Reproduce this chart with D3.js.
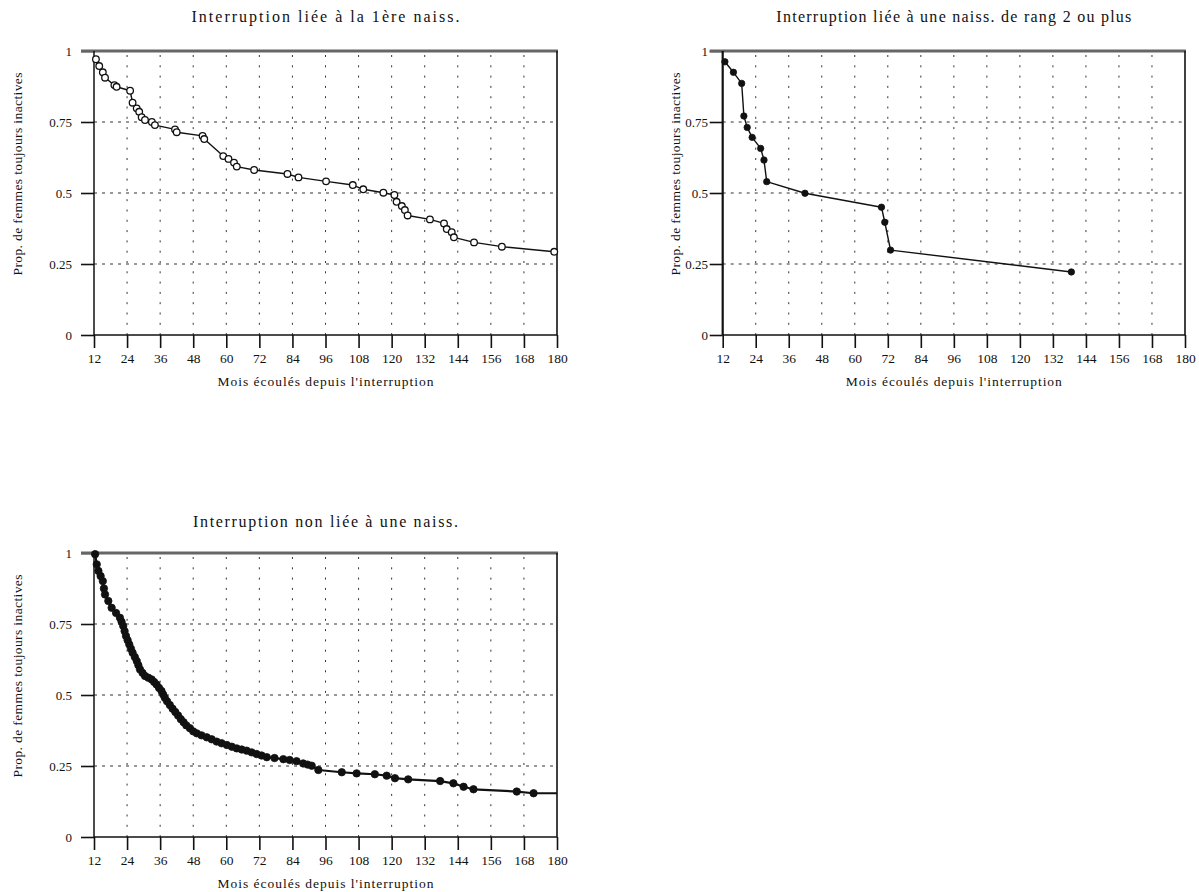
<!DOCTYPE html>
<html>
<head>
<meta charset="utf-8">
<script src="https://cdn.jsdelivr.net/npm/d3@7"></script>
<style>
  html, body { margin: 0; padding: 0; background: #fff; }
  svg { display: block; }
  text { font-family: "Liberation Serif", "DejaVu Serif", serif; fill: #111; }
</style>
</head>
<body>
<svg id="chart" width="1199" height="892"></svg>
<script>
// Survival curves: months elapsed since the interruption vs. share still inactive
const titles = [
  "Interruption liée à la 1ère naiss.",
  "Interruption liée à une naiss. de rang 2 ou plus",
  "Interruption non liée à une naiss."
];
const xAxisTitle = "Mois écoulés depuis l'interruption";
const yAxisTitle = "Prop. de femmes toujours inactives";

const xTicks = [12, 24, 36, 48, 60, 72, 84, 96, 108, 120, 132, 144, 156, 168, 180];
const yTicks = [0, 0.25, 0.5, 0.75, 1];
const yTickLabels = ["0", "0.25", "0.5", "0.75", "1"];

// First birth
const months1 = [12.7, 13.9, 15.2, 16, 19.4, 20.2, 25.1, 26, 27.5, 28.4, 29.3, 30.5, 33, 34.1,
  41.4, 42, 51.4, 52, 58.9, 60.8, 62.8, 63.8, 70.1, 82.2, 86.2, 96.2, 105.9, 109.7, 117, 121,
  121.8, 123.7, 124.8, 125.8, 133.9, 139, 140, 141.8, 142.6, 149.9, 160, 179];
const surv1 = [0.971, 0.947, 0.925, 0.906, 0.880, 0.874, 0.860, 0.818, 0.798, 0.786, 0.767, 0.757, 0.750, 0.739,
  0.724, 0.714, 0.701, 0.690, 0.630, 0.620, 0.607, 0.593, 0.581, 0.567, 0.555, 0.541, 0.528, 0.513, 0.501, 0.493,
  0.469, 0.454, 0.440, 0.421, 0.407, 0.393, 0.373, 0.362, 0.344, 0.326, 0.311, 0.293];

// Birth of rank 2 or more
const months2 = [12.8, 15.9, 18.9, 19.7, 20.9, 22.7, 25.8, 27, 28, 41.9, 69.7, 70.9, 73, 138.7];
const surv2 = [0.962, 0.925, 0.886, 0.771, 0.731, 0.696, 0.657, 0.616, 0.540, 0.499, 0.450, 0.397, 0.299, 0.222];

// Not linked to a birth
const months3 = [12.4, 13, 13.6, 14.4, 15.2, 15.6, 16, 17.2, 18.4, 20, 21.4, 22, 22.6, 23.1, 23.6, 24.2,
  24.8, 25.4, 26, 26.8, 27.5, 28.1, 28.7, 29.6, 30.5, 31.7, 32.9, 33.8, 34.7, 35.6, 36.5, 37.1,
  37.7, 38.5, 39.5, 40.5, 41.5, 42.5, 43.5, 44.5, 45.5, 46.8, 48, 49.3, 51, 52.9, 54.7, 56.5,
  58.3, 60.2, 62, 63.8, 65.6, 67.4, 69.2, 71, 72.8, 74.7, 77.5, 80.7, 83, 85.5, 87.9, 89.5,
  91, 93.4, 101.9, 107.3, 113.9, 118.2, 121.2, 126, 137.6, 142.4, 146.1, 149.7, 165.4, 171.5];
const surv3 = [0.996, 0.960, 0.937, 0.919, 0.901, 0.875, 0.854, 0.831, 0.807, 0.789, 0.772, 0.758, 0.743, 0.725, 0.708, 0.693,
  0.678, 0.663, 0.649, 0.634, 0.620, 0.605, 0.590, 0.578, 0.567, 0.561, 0.555, 0.546, 0.537, 0.525, 0.514, 0.502,
  0.490, 0.478, 0.465, 0.452, 0.440, 0.428, 0.415, 0.404, 0.393, 0.383, 0.372, 0.365, 0.358, 0.351, 0.344, 0.336,
  0.330, 0.324, 0.318, 0.312, 0.308, 0.304, 0.298, 0.292, 0.287, 0.281, 0.278, 0.274, 0.271, 0.267, 0.259, 0.255,
  0.251, 0.236, 0.228, 0.224, 0.221, 0.216, 0.207, 0.203, 0.197, 0.189, 0.177, 0.168, 0.160, 0.154];
// Last follow-up month: the curve stays flat up to it
const followUpEnd3 = 180;

const panels = [
  { title: titles[0], months: months1, surv: surv1, end: null, marker: "open",
    left: 94, right: 557, top: 51, bottom: 335, titleY: 22, titleLen: 268,
    yTitleX: 21.5, tickRight: 72, lineW: 1.4, r: 3.3, axisW: 1.5 },
  { title: titles[1], months: months2, surv: surv2, end: null, marker: "filled",
    left: 722.7, right: 1185, top: 51, bottom: 335, titleY: 22, titleLen: 355,
    yTitleX: 680, tickRight: 708, lineW: 1.4, r: 3.2, axisW: 2.2 },
  { title: titles[2], months: months3, surv: surv3, end: followUpEnd3, marker: "filled",
    left: 94, right: 557, top: 553, bottom: 837, titleY: 527, titleLen: 265,
    yTitleX: 21.5, tickRight: 72, lineW: 2.2, r: 3.7, axisW: 1.5 }
];

const svg = d3.select("#chart");
svg.append("rect").attr("width", 1199).attr("height", 892).attr("fill", "#fff");

panels.forEach(p => {
  const x = d3.scaleLinear().domain([12, 180]).range([p.left, p.right]);
  const y = d3.scaleLinear().domain([0, 1]).range([p.bottom, p.top]);
  const g = svg.append("g");

  // grid
  g.append("g").selectAll("line")
    .data(xTicks.slice(1, -1))
    .join("line")
    .attr("x1", d => x(d)).attr("x2", d => x(d))
    .attr("y1", p.top + 4).attr("y2", p.bottom)
    .attr("stroke", "#333").attr("stroke-width", 1)
    .attr("stroke-dasharray", "2,8.3");
  g.append("g").selectAll("line")
    .data(yTicks.slice(1, -1))
    .join("line")
    .attr("x1", p.left).attr("x2", p.right)
    .attr("y1", d => y(d)).attr("y2", d => y(d))
    .attr("stroke", "#333").attr("stroke-width", 1)
    .attr("stroke-dasharray", "3,5");

  // axes through d3 axis generators
  const xAxis = d3.axisBottom(x).tickValues(xTicks).tickSize(13).tickPadding(4).tickFormat(d3.format("d"));
  const yAxis = d3.axisLeft(y).tickValues(yTicks).tickSize(13).tickPadding(4)
    .tickFormat((d, i) => yTickLabels[i]);

  const gx = g.append("g").attr("transform", `translate(0,${p.bottom})`).call(xAxis);
  gx.attr("font-family", null);
  gx.select(".domain").remove();
  gx.selectAll(".tick line").attr("stroke", "#111").attr("stroke-width", 1.6);
  gx.selectAll(".tick text").style("font-size", "13.5px")
    .attr("fill", "#111").attr("dy", "0.85em");

  const gy = g.append("g").attr("transform", `translate(${p.left},0)`).call(yAxis);
  gy.attr("font-family", null);
  gy.select(".domain").remove();
  gy.selectAll(".tick line").attr("stroke", "#111").attr("stroke-width", 1.6);
  gy.selectAll(".tick text").style("font-size", "13px")
    .attr("fill", "#111")
    .attr("x", p.tickRight - p.left);

  // frame
  g.append("line").attr("x1", p.left - 13).attr("x2", p.right + 1)
    .attr("y1", p.top).attr("y2", p.top)
    .attr("stroke", "#666").attr("stroke-width", 3);
  g.append("line").attr("x1", p.left).attr("x2", p.left)
    .attr("y1", p.top).attr("y2", p.bottom)
    .attr("stroke", "#111").attr("stroke-width", p.axisW);
  g.append("line").attr("x1", p.right).attr("x2", p.right)
    .attr("y1", p.top).attr("y2", p.bottom)
    .attr("stroke", "#111").attr("stroke-width", 1.6);
  g.append("line").attr("x1", p.left).attr("x2", p.right)
    .attr("y1", p.bottom).attr("y2", p.bottom)
    .attr("stroke", "#111").attr("stroke-width", 1.6);

  // curve
  const pts = p.months.map((m, i) => [m, p.surv[i]]);
  const linePts = p.end ? pts.concat([[p.end, p.surv[p.surv.length - 1]]]) : pts;
  g.append("path")
    .datum(linePts)
    .attr("d", d3.line().x(d => x(d[0])).y(d => y(d[1])))
    .attr("fill", "none").attr("stroke", "#111").attr("stroke-width", p.lineW)
    .attr("stroke-linejoin", "round");

  g.append("g").selectAll("circle")
    .data(pts)
    .join("circle")
    .attr("cx", d => x(d[0])).attr("cy", d => y(d[1]))
    .attr("r", p.r)
    .attr("fill", p.marker === "open" ? "#fff" : "#111")
    .attr("stroke", "#111").attr("stroke-width", p.marker === "open" ? 1.3 : 0.8);

  // titles
  const cx = (p.left + p.right) / 2;
  g.append("text").attr("x", cx).attr("y", p.titleY)
    .attr("text-anchor", "middle").style("font-size", "16px")
    .attr("textLength", p.titleLen).attr("lengthAdjust", "spacing")
    .text(p.title);
  g.append("text").attr("x", cx).attr("y", p.bottom + 51)
    .attr("text-anchor", "middle").style("font-size", "13.5px")
    .attr("textLength", 216).attr("lengthAdjust", "spacing")
    .text(xAxisTitle);
  const ycy = p.top + 123;
  g.append("text")
    .attr("transform", `translate(${p.yTitleX},${ycy}) rotate(-90)`)
    .attr("text-anchor", "middle").style("font-size", "13.5px")
    .attr("textLength", 203).attr("lengthAdjust", "spacing")
    .text(yAxisTitle);
});
</script>
</body>
</html>
